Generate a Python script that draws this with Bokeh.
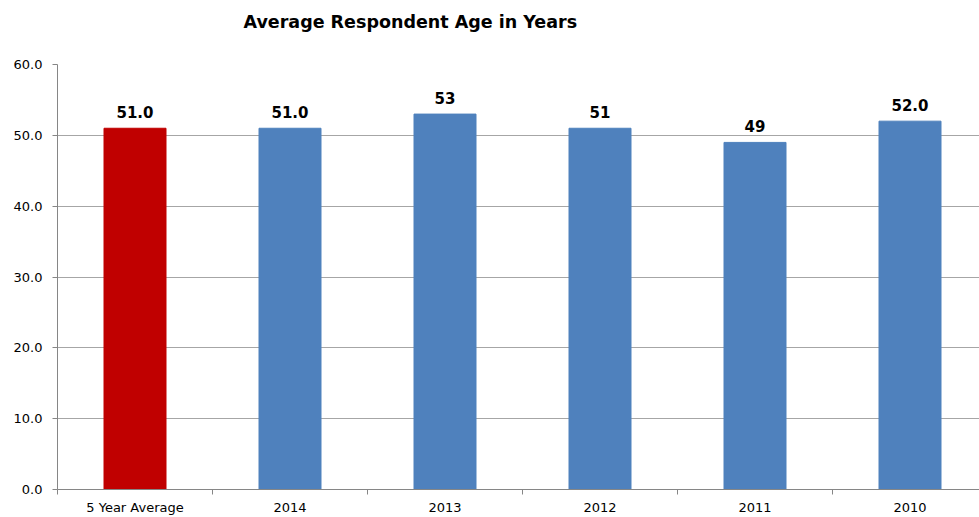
from bokeh.plotting import figure
from bokeh.models import Range1d, FixedTicker, ColumnDataSource, Title, NumeralTickFormatter
from bokeh.core.properties import value
from bokeh.embed import file_html
from bokeh.resources import INLINE

title_text = "Average Respondent Age in Years"
categories = ["5 Year Average", "2014", "2013", "2012", "2011", "2010"]
ages = [51.0, 51.0, 53, 51, 49, 52.0]
label_texts = ["51.0", "51.0", "53", "51", "49", "52.0"]
bar_colors = ["#C00000", "#4F81BD", "#4F81BD", "#4F81BD", "#4F81BD", "#4F81BD"]
y_ticks = [0, 10, 20, 30, 40, 50, 60]

xs = [i + 0.5 for i in range(len(categories))]
src = ColumnDataSource(dict(x=xs, top=ages, color=bar_colors, label=label_texts))

p = figure(width=979, height=517, output_backend="svg", toolbar_location=None,
           x_range=Range1d(0, 922 / 155.0), y_range=Range1d(0, 60),
           min_border_left=57, min_border_right=0, min_border_bottom=28, min_border_top=10)
p.outline_line_color = None
p.background_fill_color = "white"
p.border_fill_color = "white"

# spacer panel nearest the frame
spacer = Title(text=" ", text_font_size="1px", standoff=21)
p.add_layout(spacer, "above")
t = Title(text=title_text, align="left", offset=186,
          text_font="DejaVu Sans", text_font_size="17.5px", text_font_style="bold",
          text_color="#000000", standoff=18)
p.add_layout(t, "above")

p.vbar(x="x", top="top", width=0.4, bottom=0, fill_color="color", line_color="color", source=src)
p.text(x="x", y="top", text="label", source=src, text_align="center", text_baseline="bottom",
       y_offset=-10, text_font=value("DejaVu Sans"), text_font_size="15px",
       text_font_style="bold", text_color="#000000")

# y axis
p.yaxis.ticker = FixedTicker(ticks=y_ticks)
p.yaxis.formatter = NumeralTickFormatter(format="0.0")
p.yaxis.major_tick_out = 5
p.yaxis.major_tick_in = 0
p.yaxis.minor_tick_line_color = None
p.yaxis.axis_line_color = "#868686"
p.yaxis.major_tick_line_color = "#868686"
p.yaxis.major_label_text_font = "DejaVu Sans"
p.yaxis.major_label_text_font_size = "13px"
p.yaxis.major_label_text_color = "#000000"
p.yaxis.major_label_standoff = 10

# x axis
p.xaxis.ticker = FixedTicker(ticks=xs, minor_ticks=list(range(len(categories) + 1)))
p.xaxis.major_label_overrides = {x: c for x, c in zip(xs, categories)}
p.xaxis.major_tick_line_color = None
p.xaxis.minor_tick_out = 5
p.xaxis.minor_tick_in = 0
p.xaxis.minor_tick_line_color = "#868686"
p.xaxis.axis_line_color = "#868686"
p.xaxis.major_label_text_font = "DejaVu Sans"
p.xaxis.major_label_text_font_size = "13px"
p.xaxis.major_label_text_color = "#000000"
p.xaxis.major_label_standoff = 4

p.xgrid.grid_line_color = None
p.ygrid.ticker = FixedTicker(ticks=y_ticks)
p.ygrid.grid_line_color = "#A6A6A6"

open("out.html", "w").write(file_html(p, INLINE))
